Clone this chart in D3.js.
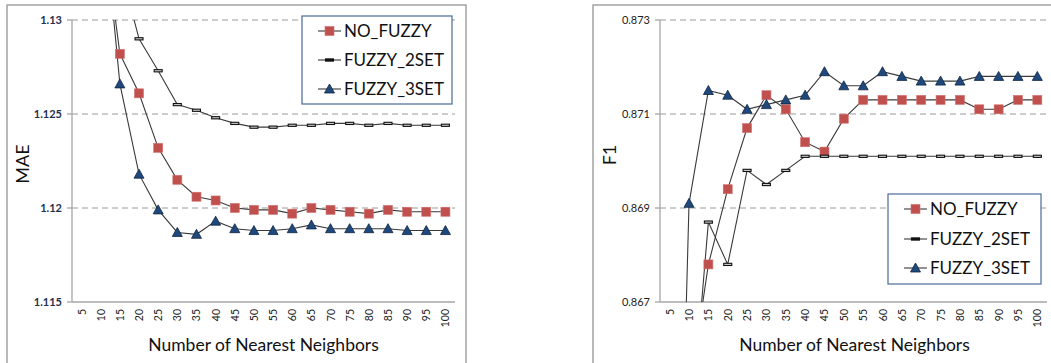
<!DOCTYPE html>
<meta charset="utf-8">
<style>
body { margin: 0; background: #fff; }
svg { display: block; font-family: Lato, "Open Sans", sans-serif; }
.grid { stroke: #9a9a9a; stroke-dasharray: 6,4; stroke-width: 1; }
.axisline { stroke: #a6a6a6; stroke-width: 1.3; }
.ser { fill: none; stroke: #3a3a3a; stroke-width: 1.1; }
.frame { fill: none; stroke: #8c8c8c; stroke-width: 1.2; }
</style>
<svg width="1051" height="363"></svg>
<script src="https://d3js.org/d3.v7.min.js"></script>
<script>

var neighbors = [5, 10, 15, 20, 25, 30, 35, 40, 45, 50, 55, 60, 65, 70, 75, 80, 85, 90, 95, 100];
var seriesNames = ["NO_FUZZY", "FUZZY_2SET", "FUZZY_3SET"];

// MAE (left chart)
var maeNoFuzzy = [1.150, 1.1361, 1.1282, 1.1261, 1.1232, 1.1215, 1.1206, 1.1204, 1.1200, 1.1199,
                  1.1199, 1.1197, 1.1200, 1.1199, 1.1198, 1.1197, 1.1199, 1.1198, 1.1198, 1.1198];
var maeFuzzy2 = [1.150, 1.1420, 1.1329, 1.1290, 1.1273, 1.1255, 1.1252, 1.1248, 1.1245, 1.1243,
                 1.1243, 1.1244, 1.1244, 1.1245, 1.1245, 1.1244, 1.1245, 1.1244, 1.1244, 1.1244];
var maeFuzzy3 = [1.150, 1.1373, 1.1266, 1.1218, 1.1199, 1.1187, 1.1186, 1.1193, 1.1189, 1.1188,
                 1.1188, 1.1189, 1.1191, 1.1189, 1.1189, 1.1189, 1.1189, 1.1188, 1.1188, 1.1188];

// F1 (right chart)
var f1NoFuzzy = [0.8600, 0.8650, 0.8678, 0.8694, 0.8707, 0.8714, 0.8711, 0.8704, 0.8702, 0.8709,
                 0.8713, 0.8713, 0.8713, 0.8713, 0.8713, 0.8713, 0.8711, 0.8711, 0.8713, 0.8713];
var f1Fuzzy2 = [0.8600, 0.8638, 0.8687, 0.8678, 0.8698, 0.8695, 0.8698, 0.8701, 0.8701, 0.8701,
                0.8701, 0.8701, 0.8701, 0.8701, 0.8701, 0.8701, 0.8701, 0.8701, 0.8701, 0.8701];
var f1Fuzzy3 = [0.8539, 0.8691, 0.8715, 0.8714, 0.8711, 0.8712, 0.8713, 0.8714, 0.8719, 0.8716,
                0.8716, 0.8719, 0.8718, 0.8717, 0.8717, 0.8717, 0.8718, 0.8718, 0.8718, 0.8718];

var maeTicks = [1.115, 1.12, 1.125, 1.13];
var f1Ticks = [0.867, 0.869, 0.871, 0.873];

var svg = d3.select("svg");

function drawChart(opt) {
  var g = svg.append("g");

  g.append("rect").attr("class", "frame")
    .attr("x", opt.frame[0]).attr("y", opt.frame[1])
    .attr("width", opt.frame[2]).attr("height", opt.frame[3]);

  var x = d3.scaleBand().domain(neighbors).range([opt.left, opt.right]);
  var y = d3.scaleLinear().domain(opt.domain).range([opt.bottom, opt.top]);
  var cx = function(d) { return x(d) + x.bandwidth() / 2; };

  // gridlines (not at bottom)
  g.selectAll(".grid").data(opt.ticks.slice(1)).enter().append("line")
    .attr("class", "grid")
    .attr("x1", opt.left).attr("x2", opt.gridEnd)
    .attr("y1", function(d) { return y(d); }).attr("y2", function(d) { return y(d); });

  // axes lines
  g.append("line").attr("class", "axisline")
    .attr("x1", opt.left).attr("x2", opt.left).attr("y1", opt.top).attr("y2", opt.bottom);
  g.append("line").attr("class", "axisline")
    .attr("x1", opt.left).attr("x2", opt.right).attr("y1", opt.bottom).attr("y2", opt.bottom);
  g.selectAll(".ytick").data(opt.ticks).enter().append("line")
    .attr("class", "axisline")
    .attr("x1", opt.left - 5).attr("x2", opt.left)
    .attr("y1", function(d) { return y(d); }).attr("y2", function(d) { return y(d); });

  g.selectAll(".ylab").data(opt.ticks).enter().append("text")
    .attr("x", opt.left - 10).attr("y", function(d) { return y(d); })
    .attr("dy", "0.35em").attr("text-anchor", "end")
    .style("font-size", "11px").style("font-weight", opt.tickWeight)
    .style("fill", opt.tickColor)
    .text(opt.fmt);

  g.selectAll(".xlab").data(neighbors).enter().append("text")
    .attr("transform", function(d) { return "translate(" + (cx(d) + 4) + "," + (opt.bottom + 7) + ") rotate(-90)"; })
    .attr("text-anchor", "end")
    .style("font-size", "10.5px").style("fill", "#222")
    .text(function(d) { return d; });

  g.append("text")
    .attr("x", (opt.left + opt.right) / 2 + opt.titleShift).attr("y", 351)
    .attr("text-anchor", "middle").style("font-size", "17.5px").style("fill", "#111")
    .text("Number of Nearest Neighbors");

  g.append("text")
    .attr("transform", "translate(" + opt.ylabelX + "," + opt.ylabelY + ") rotate(-90)")
    .attr("text-anchor", "middle").style("font-size", "18px").style("fill", "#111")
    .text(opt.ylabel);

  var clipId = "clip" + opt.id;
  svg.append("clipPath").attr("id", clipId).append("rect")
    .attr("x", opt.left).attr("y", opt.top - 8)
    .attr("width", opt.right - opt.left + 10).attr("height", opt.bottom - opt.top + 8);

  var plot = g.append("g").attr("clip-path", "url(#" + clipId + ")");
  var lineClipId = "lclip" + opt.id;
  svg.append("clipPath").attr("id", lineClipId).append("rect")
    .attr("x", opt.left).attr("y", opt.top)
    .attr("width", opt.right - opt.left + 10).attr("height", opt.bottom - opt.top);

  var line = d3.line().x(function(d, i) { return cx(neighbors[i]); }).y(function(d) { return y(d); });

  opt.series.forEach(function(vals, si) {
    plot.append("path").attr("class", "ser")
      .attr("clip-path", "url(#" + lineClipId + ")")
      .attr("d", line(vals));
  });

  opt.series.forEach(function(vals, si) {
    var pts = vals.map(function(v, i) { return { x: cx(neighbors[i]), y: y(v), v: v }; })
      .filter(function(p) { return p.v <= opt.domain[1] && p.v >= opt.domain[0]; });
    drawMarkers(plot, pts, si, false);
  });

  // legend
  var lg = g.append("g");
  lg.append("rect")
    .attr("x", opt.legend[0]).attr("y", opt.legend[1])
    .attr("width", opt.legend[2]).attr("height", opt.legend[3])
    .style("fill", "#fff").style("stroke", "#4a6a9a").style("stroke-width", 1.2);
  seriesNames.forEach(function(name, si) {
    var ly = opt.legendRows[si];
    var lx = opt.legend[0] + 16;
    lg.append("line").attr("class", "ser")
      .attr("x1", lx).attr("x2", lx + 23).attr("y1", ly).attr("y2", ly);
    drawMarkers(lg, [{ x: lx + 11.5, y: ly }], si, true);
    lg.append("text").attr("x", lx + 26).attr("y", ly).attr("dy", "0.36em")
      .style("font-size", "17px").style("fill", "#111").text(name);
  });
}

function drawMarkers(sel, pts, si, solid) {
  if (si === 0) {
    sel.selectAll(null).data(pts).enter().append("rect")
      .attr("x", function(p) { return p.x - 4.5; }).attr("y", function(p) { return p.y - 4.5; })
      .attr("width", 9).attr("height", 9)
      .style("fill", "#c0504d").style("stroke", "#d26f6c").style("stroke-width", 0.6);
  } else if (si === 1) {
    sel.selectAll(null).data(pts).enter().append("rect")
      .attr("x", function(p) { return p.x - 4; }).attr("y", function(p) { return p.y - 1.1; })
      .attr("width", 8).attr("height", 2.2)
      .style("fill", solid ? "#111" : "#cfcfcf").style("stroke", "#111").style("stroke-width", 1.1);
  } else {
    sel.selectAll(null).data(pts).enter().append("path")
      .attr("d", function(p) {
        return "M" + p.x + "," + (p.y - 5) + "L" + (p.x + 5) + "," + (p.y + 4) + "L" + (p.x - 5) + "," + (p.y + 4) + "Z";
      })
      .style("fill", "#1f497d").style("stroke", "#0f2440").style("stroke-width", 0.8);
  }
}

drawChart({
  id: "mae",
  frame: [7, 5, 459, 370],
  left: 72, right: 455, top: 20, bottom: 302, gridEnd: 455, titleShift: 0,
  domain: [1.115, 1.13], ticks: maeTicks,
  fmt: function(d) { return d3.format("")(+d.toFixed(3)); },
  tickWeight: "bold", tickColor: "#1f3050",
  ylabel: "MAE", ylabelX: 29, ylabelY: 164,
  series: [maeNoFuzzy, maeFuzzy2, maeFuzzy3],
  legend: [302, 16, 150, 88], legendRows: [31, 60, 89]
});

drawChart({
  id: "f1",
  frame: [593, 5, 470, 370],
  left: 660, right: 1047, top: 20, bottom: 302, gridEnd: 1050, titleShift: 1,
  domain: [0.867, 0.873], ticks: f1Ticks,
  fmt: function(d) { return d3.format(".3f")(d); },
  tickWeight: "normal", tickColor: "#222",
  ylabel: "F1", ylabelX: 616, ylabelY: 155,
  series: [f1NoFuzzy, f1Fuzzy2, f1Fuzzy3],
  legend: [888, 194, 153, 90], legendRows: [209, 239, 268]
});

</script>
